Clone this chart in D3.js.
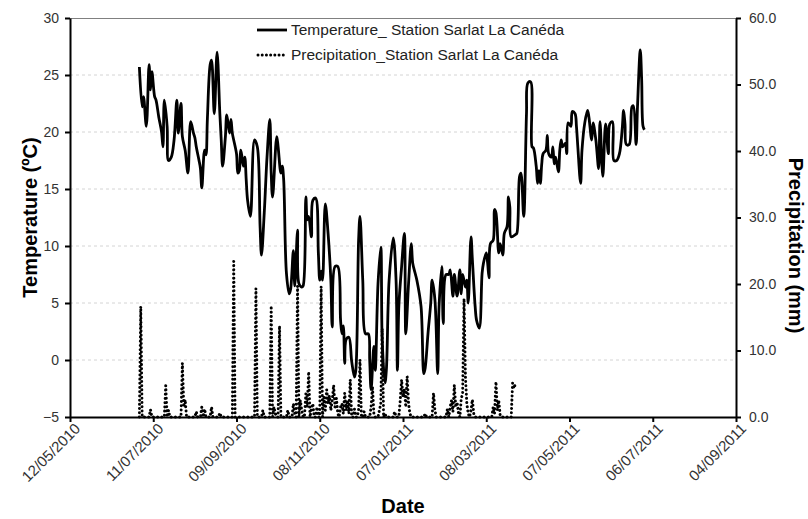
<!DOCTYPE html>
<html><head><meta charset="utf-8">
<script src="https://cdn.jsdelivr.net/npm/d3@7"></script>
<style>body{margin:0;background:#fff} svg{display:block;font-family:"Liberation Sans",Arial,sans-serif}</style>
</head><body><svg id="c" width="808" height="519"></svg>
<script>
// ---- data ----
const startDate = "01/07/2010";
const xTickLabels = ["12/05/2010","11/07/2010","09/09/2010","08/11/2010","07/01/2011","08/03/2011","07/05/2011","06/07/2011","04/09/2011"];
const tempTicks = [-5,0,5,10,15,20,25,30];
const precipTicks = [0,10,20,30,40,50,60];
const legendLabels = ["Temperature_ Station Sarlat La Canéda","Precipitation_Station Sarlat La Canéda"];
const axisTitles = {x:"Date", yLeft:"Temperature (ºC)", yRight:"Precipitation (mm)"};

const tempDay = [0,2,3,5,7,8,9,11,12,14,16,17,18,20,21,23,25,27,28,30,31,33,35,37,39,40,41,43,44,45,47,48,49,51,52,54,56,58,59,60,62,63,65,66,67,70,71,72,73,74,75,76,77,78,80,83,85,87,88,90,92,94,95,96,99,100,102,103,104,106,108,109,111,112,114,115,117,118,120,121,122,124,125,127,129,130,131,132,134,136,138,139,141,143,145,146,147,148,149,151,153,155,156,158,159,161,163,165,166,167,169,170,172,174,175,177,178,180,183,185,186,187,189,191,192,194,196,197,199,200,203,205,206,208,210,211,213,215,216,218,219,221,223,224,226,227,229,231,232,233,235,236,237,239,240,242,243,245,247,248,250,251,252,253,255,256,257,259,260,262,263,265,266,267,268,271,272,274,275,277,279,280,282,283,284,286,287,288,289,290,291,293,294,295,297,298,299,300,302,303,304,305,307,308,309,311,312,314,315,316,318,319,321,323,324,326,327,329,331,332,334,336,338,339,341,342,344,346,348,349,350,351,353,355,356,358,359,361,362,363,364];
const tempValue = [25.7,22.2,23.1,20.5,25.9,23.7,25.3,23.1,22.8,21.3,20.0,18.7,22.8,20.5,17.5,17.8,19.3,22.8,19.9,22.5,19.6,18.4,16.4,20.9,19.9,19.5,18.7,17.5,16.8,15.1,18.4,18.0,21.1,25.9,26.3,21.6,27.0,21.6,19.3,17.0,19.6,21.5,19.9,21.1,19.9,18.1,16.4,16.6,18.4,17.8,17.0,17.8,15.8,14.0,12.6,19.3,18.7,11.7,9.2,12.9,17.8,21.1,16.4,14.3,19.6,18.7,16.4,17.0,15.8,7.6,5.8,6.2,9.6,6.5,11.4,6.7,6.4,6.5,14.3,12.3,12.6,10.8,14.0,14.2,9.4,7.0,7.8,7.0,13.7,11.1,7.0,2.9,8.2,8.2,3.5,2.3,3.0,-0.3,1.8,2.0,-0.1,-1.5,-0.9,10.5,12.6,7.0,2.3,2.3,0.0,-2.6,1.2,-0.9,6.7,9.9,1.8,-2.0,-0.9,7.0,10.7,7.0,-0.9,4.7,8.2,11.1,2.3,6.7,10.2,8.5,7.5,7.0,4.7,-1.2,-0.7,2.3,5.0,7.0,5.3,-1.2,4.7,8.2,3.2,7.5,7.5,7.9,5.6,7.5,5.6,7.9,5.8,7.5,6.4,7.0,5.0,10.8,8.8,4.7,3.5,2.8,7.6,8.5,9.4,8.5,7.2,10.2,10.5,13.2,12.9,9.4,10.2,9.2,11.1,11.7,14.3,13.4,10.8,11.0,11.1,16.1,16.4,12.6,21.6,24.3,24.4,18.7,18.6,17.0,15.5,16.6,15.5,17.2,18.1,18.4,19.7,18.1,17.8,18.7,17.2,17.8,16.5,18.4,19.3,18.7,19.0,18.1,20.8,20.5,21.8,21.6,20.5,18.7,15.5,18.4,20.8,21.9,21.3,19.3,20.8,19.3,16.8,20.9,16.1,20.7,18.1,20.7,20.9,17.5,17.5,18.1,20.3,21.9,20.7,18.9,18.9,22.2,22.3,18.9,22.2,27.2,24.6,20.5,20.2];

const precipDay = [0,1,2,7,8,9,18,19,20,21,22,30,31,32,33,34,40,41,42,44,45,46,47,48,51,52,53,57,58,59,67,68,69,83,84,85,88,89,90,94,95,96,97,98,99,100,101,102,106,107,108,110,111,112,113,114,115,116,117,118,119,120,121,122,123,124,125,126,127,128,129,130,131,132,133,134,135,136,137,138,139,140,141,142,143,144,145,146,147,148,149,150,151,152,153,154,155,156,157,158,159,160,161,162,163,166,167,168,169,170,172,173,174,175,176,177,178,183,184,185,187,188,189,190,191,192,193,194,195,196,205,206,207,211,212,213,214,221,222,223,224,225,226,227,228,229,230,231,232,233,234,235,236,237,238,239,240,241,242,254,255,256,257,258,259,260,261,268,269,270,271];
const precipValue = [0,16.6,0,0,1.1,0,0,4.7,0,1.0,0,0,8.1,1.5,2.6,0,0,0.8,0,0,1.5,0,1.2,0,0,1.5,0,0,0.6,0,0,23.4,0,0,19.3,0,0,1.0,0,0,16.7,0,1.5,0.5,0,0,13.7,0,0,1.0,0,0,2.0,0.5,0,19.7,0,2.5,1.0,0,0,3.5,1.5,6.8,0,1.2,2.0,0,0,1.5,0,0,19.6,0,3.0,1.0,4.1,2.0,3.2,1.0,2.5,4.8,1.5,2.8,0.5,0,1.5,2.0,0.5,3.6,1.0,2.5,0.5,5.6,0,0,1.2,0,0,1.0,8.6,0,0,0.8,0,0,1.5,4.6,0.5,0,0,1.0,2.0,13.3,0,0.5,0,0,0.8,0,0,2.5,5.6,3.0,4.2,1.5,6.1,2.0,0.5,0,0,0.5,0,0,3.6,1.0,0,0,1.2,0,1.5,2.5,0.8,4.8,1.5,2.2,0.5,0,2.8,3.5,17.8,6.0,2.0,0.5,0,1.0,2.6,0.5,0,0,1.5,0.5,5.3,1.0,2.5,0.3,0,0,5.1,4.3,5.0];

// ---- chart ----
const parse = d3.utcParse("%d/%m/%Y");
const t0 = parse(startDate);
const W = 808, H = 519, m = {l:70, r:72, t:18, b:102};
const svg = d3.select("#c");

const x = d3.scaleUtc()
  .domain([parse(xTickLabels[0]), parse(xTickLabels[xTickLabels.length-1])])
  .range([m.l, W - m.r]);
const yT = d3.scaleLinear().domain([-5, 30]).range([H - m.b, m.t]);
const yP = d3.scaleLinear().domain([0, 60]).range([H - m.b, m.t]);

const temp = tempDay.map((d,i) => ({date: d3.utcDay.offset(t0, d), v: tempValue[i]}));
const precip = precipDay.map((d,i) => ({date: d3.utcDay.offset(t0, d), v: precipValue[i]}));

// gridlines
svg.append("g").selectAll("line").data(tempTicks.filter(t => t > -5 && t < 30)).join("line")
  .attr("x1", m.l).attr("x2", W - m.r)
  .attr("y1", d => yT(d)).attr("y2", d => yT(d))
  .attr("stroke", "#d4d4d4").attr("stroke-width", 1).attr("stroke-dasharray", "3,3");

// top border
svg.append("line").attr("x1", m.l).attr("x2", W - m.r).attr("y1", m.t + 0.5).attr("y2", m.t + 0.5)
  .attr("stroke", "#808080").attr("stroke-width", 1);

// precipitation line (dotted)
svg.append("path").datum(precip)
  .attr("fill", "none").attr("stroke", "#000").attr("stroke-width", 3)
  .attr("stroke-linecap", "round").attr("stroke-dasharray", "0.01 4.2")
  .attr("d", d3.line().x(d => x(d.date)).y(d => yP(d.v)));

// temperature line
svg.append("path").datum(temp)
  .attr("fill", "none").attr("stroke", "#000").attr("stroke-width", 2.8)
  .attr("stroke-linejoin", "round")
  .attr("d", d3.line().curve(d3.curveCatmullRom.alpha(0.5)).x(d => x(d.date)).y(d => yT(d.v)));

// axes
const styleAxis = (g, fs) => {
  g.select(".domain").attr("stroke", "#000").attr("stroke-width", 2);
  g.selectAll(".tick line").attr("stroke", "#000").attr("stroke-width", 2);
  g.selectAll(".tick text").attr("fill", "#333").style("font-size", fs)
    .style("font-family", '"Liberation Sans", Arial, sans-serif');
};
const gL = svg.append("g").attr("transform", `translate(${m.l},0)`)
  .call(d3.axisLeft(yT).tickValues(tempTicks).tickSize(5).tickSizeOuter(0).tickPadding(6).tickFormat(d3.format("d")));
styleAxis(gL, "14px");
const gR = svg.append("g").attr("transform", `translate(${W - m.r},0)`)
  .call(d3.axisRight(yP).tickValues(precipTicks).tickSize(5).tickSizeOuter(0).tickPadding(8).tickFormat(d3.format(".1f")));
styleAxis(gR, "14px");
const gB = svg.append("g").attr("transform", `translate(0,${H - m.b})`)
  .call(d3.axisBottom(x).tickValues(xTickLabels.map(parse)).tickSize(5).tickSizeOuter(0)
    .tickFormat(d3.utcFormat("%d/%m/%Y")));
styleAxis(gB, "15px");
gB.selectAll(".tick text").attr("text-anchor", "end")
  .attr("transform", "translate(7,9) rotate(-45)").attr("dy", "0.35em").attr("y", 0).attr("x", 0);

// axis titles
svg.append("text").text(axisTitles.x).attr("x", (m.l + W - m.r) / 2).attr("y", 513)
  .attr("text-anchor", "middle").style("font-weight", "bold").style("font-size", "20px");
svg.append("text").text(axisTitles.yLeft)
  .attr("transform", `translate(37,${(m.t + H - m.b) / 2}) rotate(-90)`)
  .attr("text-anchor", "middle").style("font-weight", "bold").style("font-size", "20px");
svg.append("text").text(axisTitles.yRight)
  .attr("transform", `translate(789,${(m.t + H - m.b) / 2 + 28}) rotate(90)`)
  .attr("text-anchor", "middle").style("font-weight", "bold").style("font-size", "20px");

// legend
const leg = svg.append("g");
leg.append("line").attr("x1", 257).attr("x2", 287).attr("y1", 30).attr("y2", 30)
  .attr("stroke", "#000").attr("stroke-width", 2.8);
leg.append("line").attr("x1", 258).attr("x2", 287).attr("y1", 55).attr("y2", 55)
  .attr("stroke", "#000").attr("stroke-width", 3).attr("stroke-linecap", "round").attr("stroke-dasharray", "0.01 4.2");
leg.selectAll("text.l").data(legendLabels).join("text").attr("class", "l")
  .attr("x", 291).attr("y", (d,i) => 35 + i * 25).text(d => d)
  .attr("fill", "#222").style("font-size", "15.5px");
</script></body></html>
